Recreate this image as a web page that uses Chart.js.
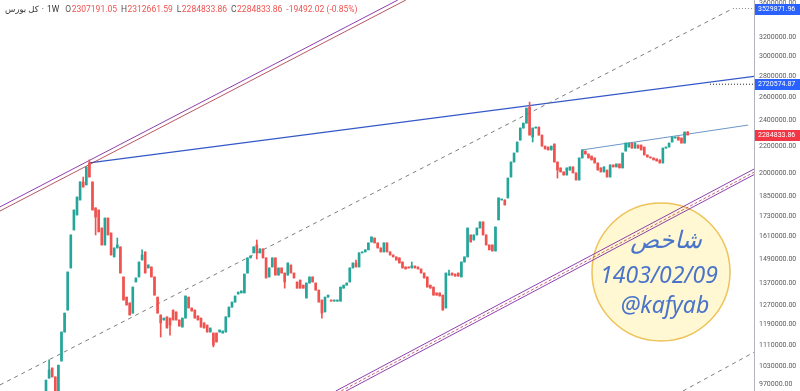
<!DOCTYPE html>
<html>
<head>
<meta charset="utf-8">
<script src="https://cdn.jsdelivr.net/npm/chart.js@4.4.0/dist/chart.umd.min.js"></script>
<style>
  html, body { margin: 0; padding: 0; background: #ffffff; }
  #wrap { width: 800px; height: 391px; position: relative; }
</style>
</head>
<body>
<div id="wrap"><canvas id="kolChart"></canvas></div>
<script>
// weekly candles of the TSE total index, oldest first
var opens = [934000, 990000, 1025000, 994000, 947000, 1050000, 1160000, 1251000, 1446000, 1648000,
    1735000, 1827000, 1944000, 1924000, 2075000, 1944000, 1778000, 1765000, 1659000, 1565000,
    1717000, 1631000, 1502000, 1549000, 1555000, 1402000, 1308000, 1282000, 1238000, 1378000,
    1402000, 1486000, 1528000, 1446000, 1451000, 1402000, 1308000, 1230000, 1209000, 1222000,
    1217000, 1251000, 1243000, 1209000, 1180000, 1217000, 1308000, 1260000, 1251000, 1226000,
    1217000, 1197000, 1188000, 1160000, 1156000, 1156000, 1160000, 1156000, 1160000, 1222000,
    1264000, 1286000, 1322000, 1327000, 1327000, 1421000, 1497000, 1523000, 1565000, 1523000,
    1544000, 1497000, 1402000, 1451000, 1497000, 1411000, 1446000, 1421000, 1411000, 1461000,
    1421000, 1378000, 1387000, 1363000, 1304000, 1373000, 1402000, 1373000, 1340000, 1295000,
    1243000, 1308000, 1295000, 1290000, 1290000, 1290000, 1349000, 1363000, 1378000, 1446000,
    1471000, 1451000, 1523000, 1528000, 1539000, 1581000, 1603000, 1576000, 1549000, 1528000,
    1576000, 1528000, 1512000, 1502000, 1497000, 1476000, 1451000, 1451000, 1446000, 1456000,
    1451000, 1441000, 1421000, 1402000, 1363000, 1354000, 1327000, 1327000, 1317000, 1260000,
    1411000, 1421000, 1416000, 1421000, 1402000, 1476000, 1502000, 1620000, 1592000, 1620000,
    1659000, 1694000, 1620000, 1565000, 1565000, 1533000, 1706000, 1827000, 1827000, 1840000,
    1977000, 2082000, 2155000, 2245000, 2340000, 2380000, 2515000, 2269000, 2340000, 2348000,
    2284000, 2199000, 2192000, 2170000, 2215000, 2082000, 2040000, 2012000, 1991000, 2025000,
    2047000, 2005000, 1957000, 2111000, 2162000, 2140000, 2125000, 2111000, 2075000, 2040000,
    2012000, 2025000, 1977000, 2061000, 2047000, 2068000, 2040000, 2162000, 2192000, 2222000,
    2184000, 2207000, 2207000, 2192000, 2133000, 2118000, 2111000, 2104000, 2097000, 2075000,
    2184000, 2192000, 2230000, 2261000, 2269000, 2261000, 2222000, 2307191.05];

var closes = [983000, 1018000, 994000, 944000, 1035000, 1160000, 1238000, 1426000, 1620000, 1765000,
    1846000, 1944000, 1910000, 2047000, 1977000, 1765000, 1723000, 1637000, 1565000, 1717000,
    1620000, 1512000, 1549000, 1565000, 1421000, 1295000, 1273000, 1230000, 1354000, 1397000,
    1476000, 1512000, 1421000, 1461000, 1402000, 1317000, 1238000, 1197000, 1217000, 1176000,
    1188000, 1209000, 1209000, 1184000, 1217000, 1313000, 1260000, 1247000, 1217000, 1209000,
    1180000, 1176000, 1160000, 1176000, 1109000, 1121000, 1168000, 1164000, 1222000, 1264000,
    1286000, 1313000, 1331000, 1336000, 1416000, 1497000, 1507000, 1555000, 1523000, 1544000,
    1497000, 1397000, 1446000, 1497000, 1411000, 1446000, 1421000, 1378000, 1471000, 1421000,
    1397000, 1349000, 1349000, 1349000, 1373000, 1402000, 1378000, 1340000, 1286000, 1238000,
    1308000, 1317000, 1290000, 1295000, 1295000, 1354000, 1363000, 1373000, 1446000, 1471000,
    1451000, 1523000, 1528000, 1539000, 1576000, 1609000, 1576000, 1549000, 1528000, 1576000,
    1528000, 1512000, 1502000, 1486000, 1471000, 1446000, 1441000, 1446000, 1456000, 1446000,
    1441000, 1421000, 1397000, 1354000, 1349000, 1317000, 1317000, 1313000, 1251000, 1421000,
    1416000, 1411000, 1406000, 1406000, 1476000, 1502000, 1659000, 1581000, 1620000, 1659000,
    1694000, 1620000, 1565000, 1539000, 1533000, 1665000, 1840000, 1833000, 1796000, 1970000,
    2082000, 2147000, 2230000, 2340000, 2380000, 2506000, 2284000, 2340000, 2348000, 2284000,
    2199000, 2177000, 2170000, 2199000, 2082000, 2025000, 2012000, 1991000, 2040000, 2047000,
    2005000, 1957000, 2111000, 2170000, 2140000, 2111000, 2097000, 2075000, 2025000, 2012000,
    2047000, 1977000, 2061000, 2047000, 2068000, 2040000, 2147000, 2222000, 2222000, 2184000,
    2222000, 2184000, 2170000, 2133000, 2118000, 2111000, 2097000, 2089000, 2075000, 2184000,
    2192000, 2222000, 2269000, 2269000, 2245000, 2222000, 2308000, 2284833.86];

// wicks that stick out beyond the body (candle index -> value)
var highs = { 1: 1054000, 12: 1977000, 14: 2097000, 23: 1603000, 31: 1539000, 68: 1592000,
    100: 1486000, 118: 1476000, 130: 1436000, 156: 2559000, 207: 2312661.59 };
var lows = { 16: 1620000, 37: 1140000, 40: 1148000, 54: 1102000, 68: 1491000, 77: 1349000,
    89: 1217000, 157: 2230000, 165: 1970000 };

var yTicks = [3600000, 3200000, 3000000, 2800000, 2600000, 2400000, 2200000, 2000000, 1850000,
    1730000, 1610000, 1490000, 1370000, 1270000, 1190000, 1110000, 1030000, 970000];
var tagValues = [3529871.96, 2720574.87, 2284833.86];
var tagColors = ['#2962ff', '#2962ff', '#f23645'];

// drawn trend lines, [candle index, value]
var upperChannelA = [[-14.84, 1784000], [113.5, 3635000]];
var upperChannelB = [[-14.84, 1759000], [116.1, 3635000]];
var lowerChannelTop = [[93.5, 947000], [230.3, 2054000]];
var lowerChannelMid = [[95.2, 947000], [230.3, 2032000]];
var lowerChannelBot = [[96.8, 947000], [230.3, 2015000]];
var middleDashed = [[-14.84, 967000], [221.6, 3529871.96]];
var lowerDashed = [[205.5, 947000], [230.3, 1094000]];
var peakLine = [[14, 2075000], [230.3, 2803000]];
var recentLine = [[172.9, 2170000], [226.5, 2364000]];
var tagRayTop = [[221.6, 3529871.96], [230.3, 3529871.96]];
var tagRayMid = [[214.2, 2720574.87], [230.3, 2720574.87]];

var header = { name: 'کل بورس', tf: '1W', o: '2307191.05', h: '2312661.59', l: '2284833.86',
    c: '2284833.86', chg: '-19492.02 (-0.85%)' };
var stampLines = ['شاخص', '1403/02/09', '@kafyab'];

var UP = '#26a69a', DOWN = '#ef5350';

var wickData = closes.map(function (c, i) {
    var hi = highs[i] !== undefined ? highs[i] : Math.max(opens[i], c);
    var lo = lows[i] !== undefined ? lows[i] : Math.min(opens[i], c);
    return { x: i, y: [lo, hi] };
});
var bodyData = closes.map(function (c, i) {
    return { x: i, y: [opens[i], c] };
});
var candleColors = closes.map(function (c, i) {
    return c >= opens[i] ? UP : DOWN;
});

function segment(pts, color, width, dash) {
    return {
        type: 'line',
        data: pts.map(function (p) { return { x: p[0], y: p[1] }; }),
        borderColor: color,
        borderWidth: width,
        borderDash: dash || [],
        pointRadius: 0,
        tension: 0,
        fill: false,
        order: 1
    };
}

var stampPlugin = {
    id: 'stamp',
    beforeDatasetsDraw: function (chart) {
        var ctx = chart.ctx, a = chart.chartArea;
        var cx = a.left + 661, cy = a.top + 272;
        ctx.save();
        ctx.beginPath();
        ctx.arc(cx, cy, 69, 0, Math.PI * 2);
        ctx.fillStyle = '#fff8d2';
        ctx.fill();
        ctx.lineWidth = 1.5;
        ctx.strokeStyle = '#eec35a';
        ctx.stroke();
        ctx.fillStyle = '#4a74c9';
        ctx.textAlign = 'center';
        ctx.textBaseline = 'middle';
        ctx.font = 'italic 24px "DejaVu Sans", "Noto Sans"';
        ctx.fillText(stampLines[0], cx + 5, cy - 30);
        ctx.font = 'italic 23px "Noto Sans", "Open Sans"';
        ctx.fillText(stampLines[1], cx - 2, cy + 4);
        ctx.fillText(stampLines[2], cx + 4, cy + 34);
        ctx.restore();
    }
};

var overlayPlugin = {
    id: 'overlay',
    afterDraw: function (chart) {
        var ctx = chart.ctx, a = chart.chartArea, ys = chart.scales.y;
        ctx.save();
        // price tags on the axis
        ctx.font = '7px Roboto';
        ctx.textBaseline = 'middle';
        ctx.textAlign = 'left';
        tagValues.forEach(function (v, k) {
            var y = Math.round(ys.getPixelForValue(v));
            ctx.fillStyle = tagColors[k];
            ctx.fillRect(a.right + 1, y - 5, chart.width - a.right - 1, 11);
            ctx.fillStyle = '#ffffff';
            ctx.fillText(v.toFixed(2), a.right + 4, y + 0.5);
        });
        // legend line at top left
        var x = 5, y = 10;
        ctx.font = '8.5px Roboto, "DejaVu Sans"';
        function put(txt, col, gap) {
            ctx.fillStyle = col;
            ctx.fillText(txt, x, y);
            x += ctx.measureText(txt).width + gap;
        }
        put(header.name, '#333333', 3);
        put('·', '#333333', 3);
        put(header.tf, '#333333', 6);
        put('O', '#555555', 0.5); put(header.o, DOWN, 4);
        put('H', '#555555', 0.5); put(header.h, DOWN, 4);
        put('L', '#555555', 0.5); put(header.l, DOWN, 4);
        put('C', '#555555', 0.5); put(header.c, DOWN, 4);
        put(header.chg, DOWN, 0);
        ctx.restore();
    }
};

var ctx = document.getElementById('kolChart').getContext('2d');
var chart = new Chart(ctx, {
    type: 'bar',
    data: {
        datasets: [{
            data: bodyData,
            backgroundColor: candleColors,
            barThickness: 2,
            minBarLength: 1,
            grouped: false,
            order: 0
        }, {
            data: wickData,
            backgroundColor: candleColors,
            barThickness: 1,
            grouped: false,
            order: 0
        },
            segment(upperChannelA, 'rgba(123, 31, 162, 0.85)', 1),
            segment(upperChannelB, 'rgba(160, 30, 50, 0.75)', 1),
            segment(lowerChannelTop, 'rgba(123, 31, 162, 0.85)', 1),
            segment(lowerChannelMid, 'rgba(170, 40, 60, 0.7)', 1, [3, 2]),
            segment(lowerChannelBot, 'rgba(123, 31, 162, 0.85)', 1),
            segment(middleDashed, '#7d7d7d', 1, [4, 4]),
            segment(lowerDashed, '#7d7d7d', 1, [4, 4]),
            segment(peakLine, '#3458c8', 1.3),
            segment(recentLine, '#6c96c8', 1),
            segment(tagRayTop, '#888888', 1, [1, 2]),
            segment(tagRayMid, '#222222', 1, [1, 2])
        ]
    },
    options: {
        responsive: true,
        maintainAspectRatio: false,
        animation: false,
        layout: { padding: 0 },
        plugins: {
            legend: { display: false },
            tooltip: { enabled: false }
        },
        scales: {
            x: {
                type: 'linear',
                display: false,
                offset: false,
                min: -14.84,
                max: 228.4
            },
            y: {
                type: 'logarithmic',
                position: 'right',
                min: 947000,
                max: 3635000,
                afterBuildTicks: function (s) {
                    s.ticks = yTicks.map(function (v) { return { value: v }; });
                },
                afterFit: function (s) {
                    s.width = 46;
                    s.paddingTop = 0;
                    s.paddingBottom = 0;
                },
                ticks: {
                    autoSkip: false,
                    padding: 5,
                    color: '#5a5a5a',
                    font: { size: 7, family: 'Roboto' },
                    callback: function (v) { return Number(v).toFixed(2); }
                },
                grid: { display: false, drawTicks: false },
                border: { display: true, color: '#b2b5be', width: 1 }
            }
        }
    },
    plugins: [stampPlugin, overlayPlugin]
});
</script>
</body>
</html>
